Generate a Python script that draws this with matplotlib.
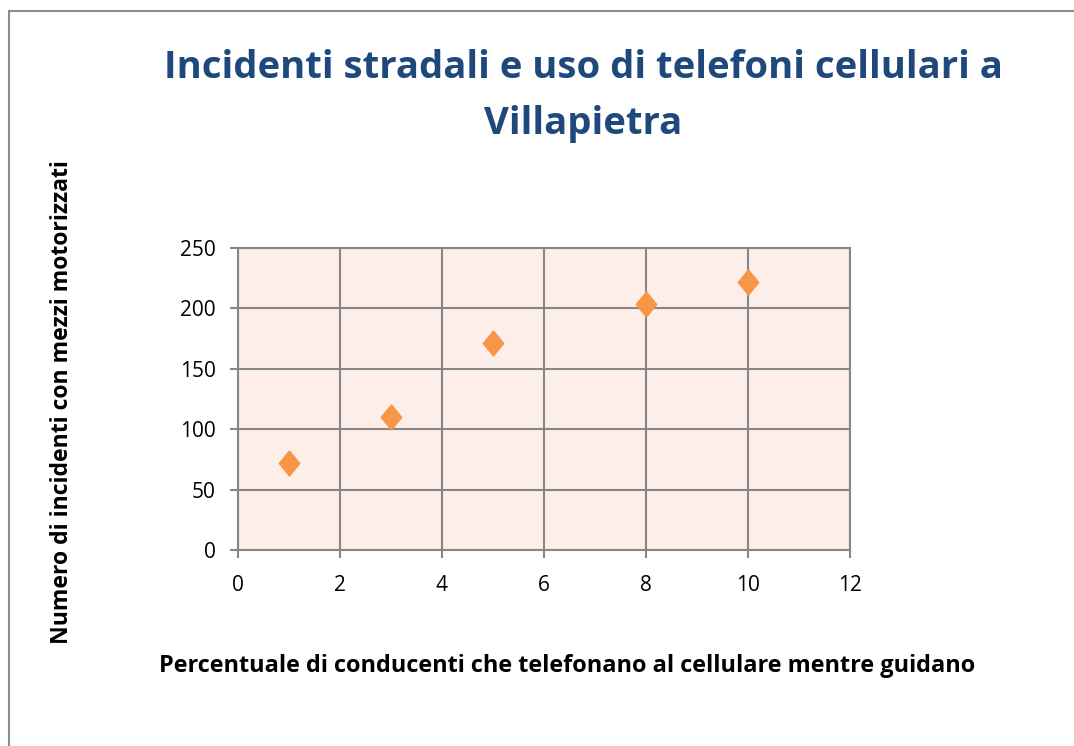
import matplotlib.pyplot as plt
from matplotlib.patches import Rectangle

plt.rcParams['font.family'] = ['Open Sans', 'DejaVu Sans']

# data
perc = [1, 3, 5, 8, 10]
incidenti = [72, 110, 171, 204, 222]
xticks = [0, 2, 4, 6, 8, 10, 12]
yticks = [0, 50, 100, 150, 200, 250]

W, H = 1074, 746
fig = plt.figure(figsize=(W / 100, H / 100), dpi=100)

# outer chart border (runs off the right and bottom edge)
fig.patches.append(Rectangle((9 / W, -0.05), 1.1, 1 - 11 / H + 0.05,
                             transform=fig.transFigure, fill=False,
                             edgecolor='#8c8c8c', linewidth=1.5))

ax = fig.add_axes([238 / W, 1 - 550 / H, (850 - 238) / W, (550 - 248) / H])
ax.set_facecolor('#fdeee9')

diamond = [(0, 1), (0.82, 0), (0, -1), (-0.82, 0), (0, 1)]
ax.plot(perc, incidenti, linestyle='none', marker=diamond, markersize=18,
        color='#f79646', markeredgecolor='#f79646', zorder=3)

ax.set_xlim(0, 12)
ax.set_ylim(0, 250)
ax.set_xticks(xticks)
ax.set_yticks(yticks)
ax.grid(True, color='#878787', linewidth=1.5)
ax.set_axisbelow(True)
for s in ax.spines.values():
    s.set_color('#878787')
    s.set_linewidth(1.5)
ax.tick_params(colors='#878787', width=1.5, length=6, labelsize=15,
               labelcolor='black')
ax.tick_params(axis='y', pad=10)
ax.tick_params(axis='x', pad=12)

fig.text(583 / W, 1 - 68 / H, 'Incidenti stradali e uso di telefoni cellulari a',
         ha='center', va='center', fontsize=27.5, fontweight='bold', color='#1f497d')
fig.text(583 / W, 1 - 124 / H, 'Villapietra',
         ha='center', va='center', fontsize=27.5, fontweight='bold', color='#1f497d')
fig.text(567 / W, 1 - 666 / H,
         'Percentuale di conducenti che telefonano al cellulare mentre guidano',
         ha='center', va='center', fontsize=16.9, fontweight='bold')
fig.text(62 / W, 1 - 402 / H, 'Numero di incidenti con mezzi motorizzati',
         ha='center', va='center', rotation=90, fontsize=16.6, fontweight='bold')

fig.savefig('out.png', dpi=100)
